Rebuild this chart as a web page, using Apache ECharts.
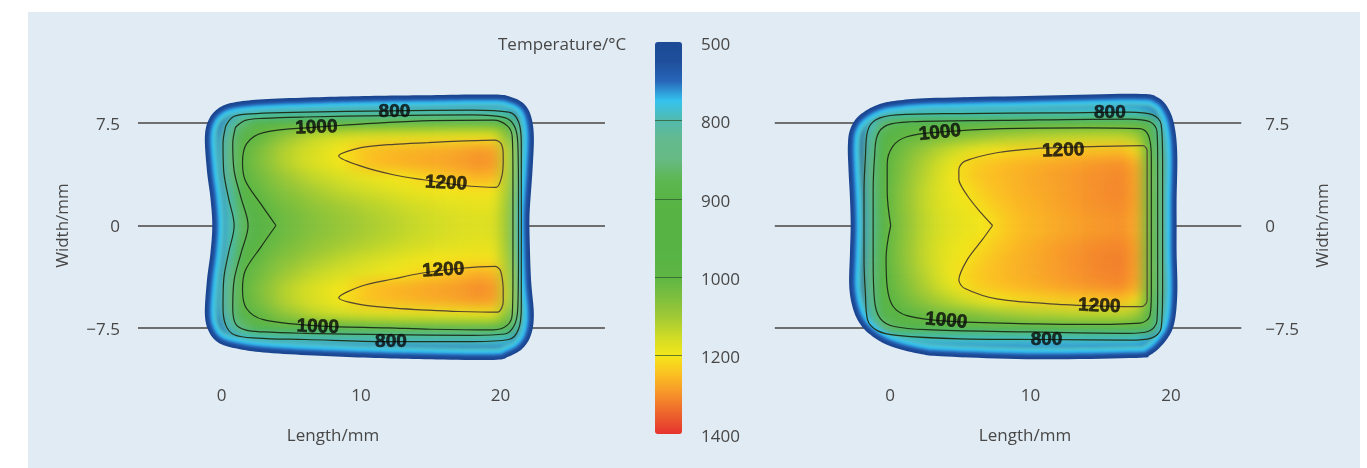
<!DOCTYPE html>
<html>
<head>
<meta charset="utf-8">
<script src="https://cdn.jsdelivr.net/npm/echarts@6/dist/echarts.min.js"></script>
<style>
  html, body { margin: 0; padding: 0; background: #ffffff; }
  #wrap { position: relative; width: 1367px; height: 468px; overflow: hidden; }
  .layer { position: absolute; left: 0; top: 0; width: 1367px; height: 468px; }
  #heat { filter: blur(6px); }
  #ring { filter: blur(1.2px); }
</style>
</head>
<body>
<div id="wrap">
  <div id="base" class="layer"></div>
  <div id="clip" class="layer">
    <div id="heat" class="layer"></div>
    <div id="ring" class="layer"></div>
  </div>
  <div id="top" class="layer"></div>
</div>
<script>
// ---------------- DATA ----------------
const xTickLabels = [0, 10, 20];
const yTickValues = [-7.5, 0, 7.5];
const colorbarTicks = [500, 800, 900, 1000, 1200, 1400];
const colorbarTitle = 'Temperature/°C';
const xAxisName = 'Length/mm';
const yAxisName = 'Width/mm';

// cell centres (mm)
const leftCellX = [-1.5, -0.5, 0.5, 1.5, 2.5, 3.5, 4.5, 5.5, 6.5, 7.5, 8.5, 9.5, 10.5, 11.5, 12.5, 13.5, 14.5, 15.5, 16.5, 17.5, 18.5, 19.5, 20.5, 21.5, 22.5];
const rightCellX = [-2.5, -1.5, -0.5, 0.5, 1.5, 2.5, 3.5, 4.5, 5.5, 6.5, 7.5, 8.5, 9.5, 10.5, 11.5, 12.5, 13.5, 14.5, 15.5, 16.5, 17.5, 18.5, 19.5, 20.5];
const cellY = [9.5, 8.5, 7.5, 6.5, 5.5, 4.5, 3.5, 2.5, 1.5, 0.5, -0.5, -1.5, -2.5, -3.5, -4.5, -5.5, -6.5, -7.5, -8.5, -9.5];

// temperatures (°C), rows from y = 9.5 down to y = -9.5
const leftTemp = [
  [560,560,590,610,620,630,630,630,630,630,630,630,630,630,630,630,630,630,630,630,630,630,620,580,560],
  [560,600,680,720,740,755,760,765,765,765,765,765,765,765,765,765,765,765,765,765,765,760,740,660,570],
  [570,650,780,860,900,920,935,950,960,970,980,990,995,1000,1005,1005,1005,1005,1005,1005,1005,995,940,780,600],
  [580,690,820,950,1000,1040,1080,1110,1135,1150,1160,1170,1175,1178,1180,1182,1184,1186,1188,1190,1192,1188,1070,830,620],
  [580,700,840,990,1040,1080,1120,1145,1165,1180,1200,1225,1245,1252,1258,1262,1266,1270,1275,1282,1290,1282,1130,830,620],
  [580,700,830,1000,1045,1085,1120,1145,1165,1180,1195,1222,1245,1255,1262,1268,1272,1276,1282,1290,1300,1290,1130,820,620],
  [570,690,820,980,1025,1060,1090,1115,1135,1150,1163,1175,1185,1192,1198,1208,1220,1232,1242,1252,1262,1255,1120,820,620],
  [570,680,800,940,1005,1040,1065,1085,1105,1120,1135,1145,1155,1165,1175,1183,1190,1195,1200,1205,1208,1202,1110,810,610],
  [560,670,780,890,975,1015,1040,1060,1078,1092,1105,1115,1125,1135,1145,1155,1163,1170,1175,1180,1183,1180,1100,800,600],
  [560,660,770,870,945,998,1025,1045,1062,1075,1088,1100,1110,1120,1130,1140,1150,1158,1165,1170,1172,1170,1095,800,600],
  [560,660,770,870,945,998,1025,1045,1062,1075,1088,1100,1110,1120,1130,1140,1150,1158,1165,1170,1172,1170,1095,800,600],
  [560,670,780,890,975,1015,1040,1060,1078,1092,1105,1115,1125,1135,1145,1155,1163,1170,1175,1180,1183,1180,1100,800,600],
  [570,680,800,940,1005,1040,1065,1085,1105,1120,1135,1147,1158,1168,1178,1187,1195,1200,1205,1208,1210,1204,1110,810,610],
  [570,690,820,980,1025,1060,1090,1115,1135,1150,1162,1172,1182,1190,1198,1210,1222,1234,1245,1255,1265,1258,1120,820,620],
  [580,700,830,1000,1045,1085,1120,1145,1165,1180,1195,1220,1242,1255,1262,1268,1274,1280,1286,1294,1304,1292,1130,820,620],
  [580,700,840,990,1040,1080,1120,1145,1165,1180,1198,1222,1242,1250,1256,1262,1266,1272,1278,1285,1292,1284,1130,830,620],
  [580,690,820,950,1000,1040,1078,1105,1130,1145,1155,1165,1172,1176,1180,1182,1184,1186,1188,1190,1192,1188,1070,830,620],
  [570,650,780,860,900,920,935,950,960,970,980,990,995,1000,1005,1005,1005,1005,1005,1005,1005,995,940,780,600],
  [560,600,680,720,740,755,760,765,765,765,765,765,765,765,765,765,765,765,765,765,765,760,740,660,570],
  [560,560,600,620,630,640,640,640,640,640,640,640,640,640,640,640,640,640,640,640,640,630,620,590,560]
];
const rightTemp = [
  [560,590,610,625,630,630,630,630,630,630,630,630,630,630,630,630,630,630,630,630,625,610,580,560],
  [560,630,700,730,740,745,745,745,745,745,745,745,745,745,745,745,745,745,745,745,735,700,640,560],
  [580,760,860,890,905,915,925,935,940,945,950,950,950,950,950,950,950,950,950,945,935,880,760,590],
  [600,800,920,985,1010,1025,1040,1055,1070,1085,1100,1110,1118,1125,1130,1135,1138,1140,1140,1138,1110,960,800,610],
  [610,810,940,1020,1060,1095,1125,1150,1175,1192,1205,1215,1222,1228,1232,1236,1240,1244,1248,1250,1215,1000,810,610],
  [610,820,950,1035,1080,1120,1155,1185,1220,1238,1248,1255,1262,1268,1274,1280,1286,1292,1298,1302,1272,1020,820,610],
  [610,820,955,1040,1090,1130,1165,1195,1225,1242,1252,1260,1268,1275,1282,1288,1294,1300,1305,1310,1280,1020,820,610],
  [600,815,960,1050,1100,1140,1170,1190,1205,1230,1246,1256,1265,1272,1278,1286,1293,1300,1307,1310,1282,1020,820,600],
  [600,810,965,1050,1100,1140,1168,1185,1196,1215,1236,1250,1260,1268,1276,1284,1291,1298,1303,1306,1280,1020,820,600],
  [600,805,960,1045,1095,1135,1162,1178,1188,1198,1220,1240,1254,1262,1270,1277,1284,1290,1295,1298,1275,1020,820,600],
  [600,805,960,1045,1095,1135,1162,1178,1188,1198,1220,1240,1254,1262,1270,1277,1284,1290,1295,1298,1275,1020,820,600],
  [600,810,965,1050,1100,1140,1168,1185,1196,1215,1236,1250,1262,1272,1282,1290,1298,1305,1310,1312,1285,1020,820,600],
  [600,815,960,1050,1100,1140,1170,1190,1205,1230,1246,1258,1268,1276,1285,1294,1302,1310,1316,1318,1288,1020,820,600],
  [610,820,955,1040,1090,1130,1165,1195,1224,1240,1252,1260,1268,1276,1285,1292,1300,1308,1314,1316,1285,1020,820,610],
  [610,820,950,1030,1075,1115,1150,1182,1212,1232,1245,1252,1260,1268,1275,1282,1290,1296,1302,1305,1275,1020,820,610],
  [610,810,935,1010,1050,1082,1110,1135,1160,1180,1198,1210,1218,1224,1228,1232,1236,1240,1244,1246,1212,1000,810,610],
  [600,790,910,975,1000,1018,1032,1045,1060,1075,1090,1102,1112,1120,1126,1130,1134,1136,1136,1134,1105,960,800,610],
  [580,740,850,885,900,910,920,930,935,940,945,948,950,950,950,950,950,950,950,945,935,880,760,590],
  [560,620,690,725,740,745,745,745,745,745,745,745,745,745,745,745,745,745,745,745,735,700,640,560],
  [560,580,600,620,630,635,640,640,640,640,640,640,640,640,640,640,640,640,640,640,630,610,580,560]
];

// slab outlines (mm)
const leftOutline = [[-1.2,6.5],[-0.9,7.8],[-0.2,8.6],[0.8,9.0],[3,9.25],[7,9.4],[11,9.5],[15,9.55],[19.5,9.6],[20.8,9.4],[21.7,8.9],[22.2,8.0],[22.4,6.5],[22.3,4],[22.1,1],[22.1,-1],[22.2,-4],[22.4,-6.5],[22.2,-8.0],[21.6,-9.0],[20.6,-9.6],[19.5,-9.85],[15,-9.8],[11,-9.7],[7,-9.55],[3,-9.3],[1,-9.0],[-0.2,-8.6],[-0.9,-7.8],[-1.2,-6.5],[-1.05,-4],[-0.8,-2],[-0.67,0],[-0.8,2],[-1.05,4]];
const rightOutline = [[-3.0,5.8],[-2.85,7.0],[-2.25,8.0],[-1.0,8.8],[0.5,9.15],[3.3,9.35],[10.4,9.5],[17.5,9.65],[19.1,9.35],[19.9,8.4],[20.3,7.0],[20.45,5],[20.4,2],[20.4,0],[20.4,-2],[20.45,-5],[20.2,-7.3],[19.5,-8.6],[18.5,-9.5],[17.5,-9.7],[10.4,-9.8],[4,-9.6],[2.1,-9.4],[0.2,-8.9],[-1.0,-8.3],[-2.0,-7.4],[-2.6,-6.2],[-2.9,-4.5],[-2.85,-2],[-2.8,0],[-2.85,2],[-2.95,4]];

// contour lines (mm)
const leftC800 = [[0.3,7.3],[0.9,8.0],[2.5,8.2],[6,8.3],[12,8.4],[18,8.45],[20.6,8.3],[21.3,7.6],[21.5,6],[21.5,2],[21.5,-2],[21.5,-6],[21.3,-7.6],[20.6,-8.35],[18,-8.5],[12,-8.5],[6,-8.35],[2.5,-8.25],[0.9,-8.0],[0.3,-7.3],[0.1,-6],[0.15,-4],[0.5,-2],[0.9,0],[0.5,2],[0.15,4],[0.1,6],[0.3,7.3]];
const leftC900 = [[1.0,7.2],[1.7,7.7],[3,7.85],[6,7.95],[12,8.05],[18,8.1],[20.3,7.9],[21.0,7.3],[21.25,6],[21.3,2],[21.3,-2],[21.25,-6],[21.0,-7.3],[20.3,-7.95],[18,-8.05],[12,-8.0],[6,-7.9],[3,-7.8],[1.7,-7.65],[1.0,-7.2],[0.8,-6],[0.9,-4],[1.4,-2],[1.9,0],[1.4,2],[0.9,4],[0.8,6],[1.0,7.2]];
const leftC1000 = [[3.9,0],[2.8,1.6],[1.7,3.3],[1.5,4.6],[1.8,6.0],[3.0,6.8],[6.8,7.2],[12,7.55],[15,7.68],[19.5,7.72],[20.5,7.3],[20.85,6.5],[20.9,4],[20.9,0],[20.9,-4],[20.85,-6.5],[20.5,-7.3],[19.5,-7.65],[15,-7.6],[12,-7.5],[6.9,-7.35],[3.0,-6.9],[1.8,-6.1],[1.5,-4.7],[1.7,-3.3],[2.8,-1.6],[3.9,0]];
const leftC1200a = [[20.2,4.5],[20.1,3.6],[19.7,2.8],[17.2,2.95],[14.5,3.35],[12.4,3.7],[10,4.35],[8.4,5.1],[10,5.7],[12.4,5.95],[14.8,6.07],[17.5,6.2],[19.6,6.26],[20.05,6.0],[20.2,5.2],[20.2,4.5]];
const leftC1200b = [[20.2,-4.5],[20.0,-3.3],[19.6,-3.0],[17,-3.15],[14.3,-3.5],[12.4,-3.9],[10,-4.45],[8.4,-5.3],[10,-5.8],[12.4,-6.05],[14.8,-6.2],[17,-6.3],[19.8,-6.35],[20.2,-5.6],[20.2,-4.5]];
const rightC800 = [[-1.85,0],[-1.85,2.5],[-1.75,5],[-1.6,6.9],[-1.0,7.75],[0.5,8.1],[5,8.2],[12,8.25],[17,8.3],[18.7,8.1],[19.3,7.4],[19.4,5],[19.4,0],[19.4,-5],[19.3,-7.5],[18.6,-8.25],[17,-8.4],[11,-8.35],[5,-8.3],[0.5,-8.05],[-0.9,-7.7],[-1.6,-6.9],[-1.75,-5],[-1.85,-2.5],[-1.85,0]];
const rightC900 = [[-1.2,0],[-1.2,2.5],[-1.1,5],[-0.9,6.6],[-0.2,7.35],[1.5,7.6],[8,7.7],[17,7.8],[18.5,7.6],[19.0,6.9],[19.05,5],[19.05,0],[19.05,-5],[19.0,-7.0],[18.4,-7.75],[17,-7.9],[10,-7.8],[3,-7.65],[0.3,-7.4],[-0.7,-6.8],[-1.1,-5.5],[-1.2,-2.5],[-1.2,0]];
const rightC1000 = [[0.05,0],[-0.2,2.5],[-0.2,4.5],[0.2,5.8],[1.2,6.5],[3.6,6.85],[8,7.1],[14,7.15],[17.8,7.1],[18.4,6.6],[18.6,5],[18.6,0],[18.6,-5],[18.5,-6.6],[17.8,-7.15],[14,-7.25],[10.4,-7.2],[4,-7.0],[1.2,-6.6],[0.2,-5.9],[-0.2,-4.5],[-0.28,-2.4],[0.05,0]];
const rightC1200 = [[7.3,0],[6.5,0.9],[5.5,2.2],[4.9,3.4],[4.9,4.1],[5.3,4.7],[7.7,5.35],[10.5,5.65],[12.4,5.72],[15,5.8],[18.0,5.85],[18.3,5.5],[18.3,0],[18.3,-5.5],[17.9,-5.95],[15,-5.9],[12.4,-5.8],[7.7,-5.4],[5.3,-4.6],[4.9,-4.0],[5.5,-2.5],[6.6,-1.0],[7.3,0]];

// contour labels: [text, x, y, rotation°]
const leftLabels = [['800',12.4,8.35,0],['1000',6.8,7.17,2],['1200',16.1,3.09,-3],['1200',15.9,-3.27,3],['1000',6.9,-7.43,-2],['800',12.15,-8.53,0]];
const rightLabels = [['800',15.65,8.27,0],['1000',3.56,6.8,6],['1200',12.33,5.49,2],['1200',14.9,-5.9,-2],['1000',4.0,-6.98,-5],['800',11.14,-8.38,0]];

// ---------------- STYLE / LAYOUT ----------------
const FONT = 'Open Sans';
const TXT = '#474747';
const colorbarColors = ['#1c4a94','#1f4f9c','#2866ba','#35c3ee','#52baad','#64ba8e','#66ba84','#5db752','#58b446','#56b344','#56b344','#58b444','#5eb644','#7cbf3e','#a0c935','#cddb27','#f4e61a','#fbbe22','#f6912b','#ec622c','#e6332f'];
const ringBands = [
  {w: 24, c: '#4fbcc4'}, {w: 19, c: '#36c4ee'}, {w: 14, c: '#2f9edd'}, {w: 11, c: '#2766ba'}, {w: 8, c: '#1f4d9a'}, {w: 4, c: '#1a4590'}
];
const PANELS = [
  {x0: 221.6, sx: 13.94, xmin: -6, xmax: 27.5, yAxisPos: 'left', labelMargin: 18, nameGap: 66, cells: leftCellX, temp: leftTemp, outline: leftOutline,
   contours: [leftC800, leftC900, leftC1000], hot: [leftC1200a, leftC1200b], labels: leftLabels, nameX: 333},
  {x0: 890, sx: 14.05, xmin: -8.2, xmax: 25.0, yAxisPos: 'right', labelMargin: 24, nameGap: 73, cells: rightCellX, temp: rightTemp, outline: rightOutline,
   contours: [rightC800, rightC900, rightC1000], hot: [rightC1200], labels: rightLabels, nameX: 1025}
];
const Y0 = 225.5, SY = 13.65, YMIN = -15, YMAX = 15;
const X_AXIS_Y = 385;

function valueGrid(p) {
  return {left: p.x0 + p.xmin * p.sx, top: Y0 - YMAX * SY, width: (p.xmax - p.xmin) * p.sx, height: (YMAX - YMIN) * SY};
}
function cellGrid(p) {
  const x1 = p.cells[0] - 0.5, x2 = p.cells[p.cells.length - 1] + 0.5;
  const y1 = cellY[0] + 0.5, y2 = cellY[cellY.length - 1] - 0.5;
  return {left: p.x0 + x1 * p.sx, top: Y0 - y1 * SY, width: (x2 - x1) * p.sx, height: (y1 - y2) * SY};
}
function tempToPos(t) {
  for (let i = 0; i < colorbarTicks.length - 1; i++) {
    if (t <= colorbarTicks[i + 1]) return i + (t - colorbarTicks[i]) / (colorbarTicks[i + 1] - colorbarTicks[i]);
  }
  return colorbarTicks.length - 1;
}
function fmtNum(v) { return v < 0 ? '\u2212' + Math.abs(v) : String(v); }
function catmull(pts, steps) {
  const n = pts.length, out = [];
  for (let i = 0; i < n; i++) {
    const p0 = pts[(i - 1 + n) % n], p1 = pts[i], p2 = pts[(i + 1) % n], p3 = pts[(i + 2) % n];
    for (let s = 0; s < steps; s++) {
      const t = s / steps, t2 = t * t, t3 = t2 * t;
      out.push([0, 1].map(k => 0.5 * (2 * p1[k] + (-p0[k] + p2[k]) * t + (2 * p0[k] - 5 * p1[k] + 4 * p2[k] - p3[k]) * t2 + (-p0[k] + 3 * p1[k] - 3 * p2[k] + p3[k]) * t3)));
    }
  }
  return out;
}

const grids = PANELS.map(valueGrid);
const hiddenValueAxes = (dim) => PANELS.map((p, i) => dim === 'x'
  ? {type: 'value', gridIndex: i, min: p.xmin, max: p.xmax, show: false}
  : {type: 'value', gridIndex: i, min: YMIN, max: YMAX, interval: 7.5, show: false});

// ---------------- BASE LAYER ----------------
const base = echarts.init(document.getElementById('base'), null, {renderer: 'canvas'});
const cbGrid = {left: 655, top: 42, width: 27, height: 392};
const cbLabelGrid = {left: 655, top: 45, width: 27, height: 392};
const labelRich = (shift) => ({t: {fontFamily: FONT, fontSize: 17, color: TXT, padding: [shift, 0, 0, 0]}});
base.setOption({
  animation: false,
  title: {text: colorbarTitle, left: 498, top: 37, padding: 0,
          textStyle: {fontFamily: FONT, fontSize: 17, fontWeight: 'normal', color: TXT}},
  graphic: [
    {type: 'rect', shape: {x: 28, y: 12, width: 1332, height: 456}, style: {fill: '#e1ebf3'}, z: -100, silent: true},
    ...PANELS.map(p => ({type: 'text', x: p.nameX, y: 436, z: 10, silent: true,
      style: {text: xAxisName, fontFamily: FONT, fontSize: 17, fill: TXT, align: 'center', verticalAlign: 'middle'}}))
  ],
  grid: [...grids, cbGrid, cbLabelGrid],
  xAxis: [
    ...PANELS.map((p, i) => ({
      type: 'value', gridIndex: i, min: p.xmin, max: p.xmax, position: 'bottom',
      offset: X_AXIS_Y - (Y0 - YMIN * SY),
      axisLine: {show: false}, axisTick: {show: false}, splitLine: {show: false},
      axisLabel: {customValues: xTickLabels, margin: 3, fontFamily: FONT, fontSize: 17, color: TXT,
                  formatter: v => xTickLabels.indexOf(v) >= 0 ? fmtNum(v) : ''}
    })),
    {type: 'value', gridIndex: 2, show: false, min: 0, max: 1},
    {type: 'value', gridIndex: 3, show: false, min: 0, max: 1}
  ],
  yAxis: [
    ...PANELS.map((p, i) => ({
      type: 'value', gridIndex: i, min: YMIN, max: YMAX, interval: 7.5, position: p.yAxisPos,
      name: yAxisName, nameLocation: 'middle', nameGap: p.nameGap, nameRotate: 90,
      nameTextStyle: {fontFamily: FONT, fontSize: 17, color: TXT},
      axisLine: {show: false}, axisTick: {show: false},
      splitLine: {show: true, showMinLine: false, showMaxLine: false, lineStyle: {color: '#6e6e6e', width: 2}},
      axisLabel: {margin: p.labelMargin, rich: labelRich(4),
                  formatter: v => yTickValues.indexOf(v) >= 0 ? '{t|' + fmtNum(v) + '}' : ''}
    })),
    // colorbar contour-level separators
    {type: 'value', gridIndex: 2, min: 0, max: colorbarTicks.length - 1, interval: 1, inverse: true, position: 'right', z: 8,
     axisLine: {show: false}, axisTick: {show: false}, axisLabel: {show: false},
     splitLine: {show: true, showMinLine: false, showMaxLine: false, lineStyle: {color: '#2f5a2f', width: 1, opacity: 0.75}}},
    // colorbar tick labels
    {type: 'value', gridIndex: 3, min: 0, max: colorbarTicks.length - 1, interval: 1, inverse: true, position: 'right',
     axisLine: {show: false}, axisTick: {show: false}, splitLine: {show: false},
     axisLabel: {margin: 19, fontFamily: FONT, fontSize: 17, color: TXT, formatter: v => String(colorbarTicks[v])}}
  ],
  visualMap: {
    type: 'continuous', seriesIndex: [], min: 0, max: colorbarTicks.length - 1, inverse: true, orient: 'vertical',
    left: cbGrid.left, top: cbGrid.top, itemWidth: cbGrid.width, itemHeight: cbGrid.height, padding: 0,
    calculable: false, hoverLink: false, showLabel: false, inRange: {color: colorbarColors}, z: 4
  },
  series: []
});

// ---------------- HEAT LAYER ----------------
const heat = echarts.init(document.getElementById('heat'), null, {renderer: 'canvas'});
heat.setOption({
  animation: false,
  grid: PANELS.map(cellGrid),
  xAxis: PANELS.map((p, i) => ({type: 'category', gridIndex: i, data: p.cells.map(String), show: false})),
  yAxis: PANELS.map((p, i) => ({type: 'category', gridIndex: i, data: cellY.map(String), inverse: true, show: false})),
  visualMap: {type: 'continuous', show: false, dimension: 3, min: 0, max: colorbarTicks.length - 1, inRange: {color: colorbarColors}},
  series: PANELS.map((p, i) => {
    const data = [];
    p.temp.forEach((row, r) => row.forEach((t, c) => data.push([c, r, t, tempToPos(t)])));
    return {type: 'heatmap', xAxisIndex: i, yAxisIndex: i, data: data, itemStyle: {borderWidth: 0}, emphasis: {disabled: true}};
  })
});

// ---------------- RING LAYER (slab edge) ----------------
const ring = echarts.init(document.getElementById('ring'), null, {renderer: 'canvas'});
ring.setOption({
  animation: false,
  grid: grids,
  xAxis: hiddenValueAxes('x'),
  yAxis: hiddenValueAxes('y'),
  series: PANELS.map((p, i) => ({
    type: 'custom', xAxisIndex: i, yAxisIndex: i, data: p.outline, silent: true,
    renderItem: function (params, api) {
      if (params.dataIndexInside !== 0) return;
      const pts = [];
      for (let k = 0; k < params.dataInsideLength; k++) pts.push(api.coord([api.value(0, k), api.value(1, k)]));
      const dense = catmull(pts, 10);
      return {type: 'group', children: ringBands.map(b => ({
        type: 'polygon', shape: {points: dense}, style: {fill: 'none', stroke: b.c, lineWidth: b.w, lineJoin: 'round'}
      }))};
    }
  }))
});

// clip both field layers to the slab outlines
(function () {
  let d = '';
  PANELS.forEach((p, i) => {
    const pts = p.outline.map(pt => base.convertToPixel({gridIndex: i}, pt));
    const dense = catmull(pts, 10);
    d += 'M' + dense.map(q => q[0].toFixed(2) + ' ' + q[1].toFixed(2)).join(' L') + ' Z ';
  });
  document.getElementById('clip').style.clipPath = "path('" + d + "')";
})();

// ---------------- TOP LAYER (contours + labels) ----------------
const topChart = echarts.init(document.getElementById('top'), null, {renderer: 'canvas'});
const topSeries = [];
PANELS.forEach((p, i) => {
  p.contours.forEach(c => topSeries.push({
    type: 'line', xAxisIndex: i, yAxisIndex: i, data: c, smooth: 0.35, symbol: 'none', silent: true,
    lineStyle: {color: '#1f331b', width: 1.2}, z: 2
  }));
  p.hot.forEach(c => topSeries.push({
    type: 'line', xAxisIndex: i, yAxisIndex: i, data: c, smooth: 0.3, symbol: 'none', silent: true,
    lineStyle: {color: '#54462f', width: 1.2}, z: 2
  }));
  topSeries.push({
    type: 'scatter', xAxisIndex: i, yAxisIndex: i, symbolSize: 0, silent: true, z: 5,
    data: p.labels.map(l => ({name: l[0], value: [l[1], l[2]], label: {rotate: l[3]}})),
    label: {show: true, position: 'inside', formatter: '{b}', fontFamily: 'Liberation Sans', fontWeight: 'bold', fontSize: 19,
            color: '#0a0a0a', textBorderColor: '#0a0a0a', textBorderWidth: 0.6}
  });
});
topChart.setOption({
  animation: false,
  grid: grids,
  xAxis: hiddenValueAxes('x'),
  yAxis: hiddenValueAxes('y'),
  series: topSeries
});
</script>
</body>
</html>
